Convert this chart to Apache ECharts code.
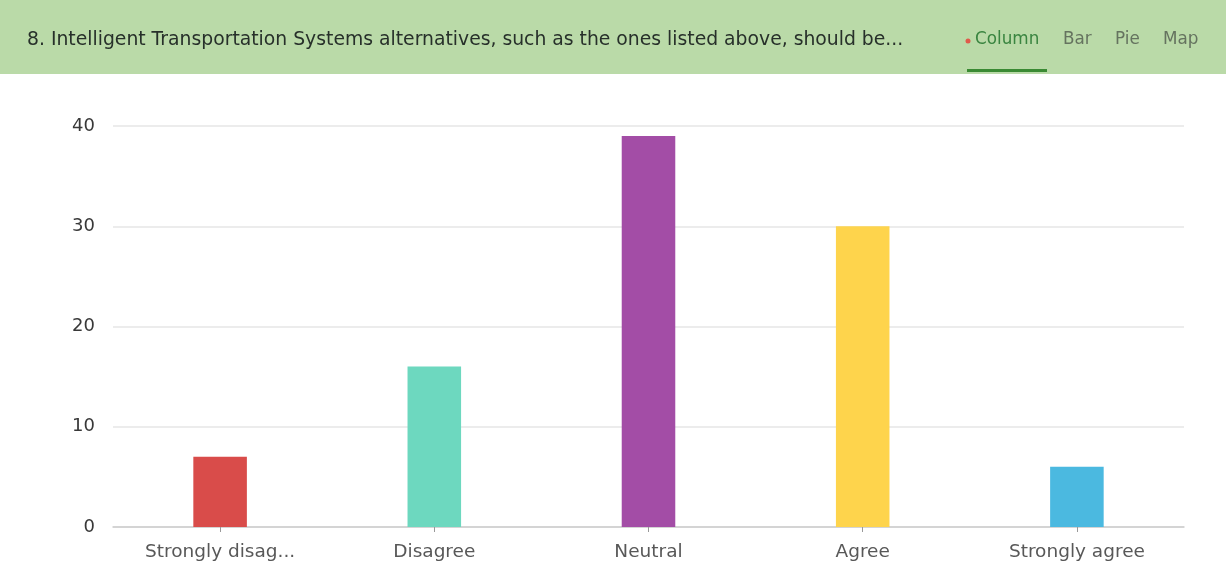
<!DOCTYPE html>
<html>
<head>
<meta charset="utf-8">
<style>
  html, body { margin: 0; padding: 0; background: #ffffff; }
  #chart { width: 1226px; height: 572px; }
</style>
<script src="https://cdn.jsdelivr.net/npm/echarts@6/dist/echarts.min.js"></script>
</head>
<body>
<div id="chart"></div>
<script>
// Survey question 8: response counts per answer option
const questionTitle = '8. Intelligent Transportation Systems alternatives, such as the ones listed above, should be...';
const categories = ['Strongly disag...', 'Disagree', 'Neutral', 'Agree', 'Strongly agree'];
const counts = [7, 16, 39, 30, 6];
const barColors = ['#d94c4a', '#6dd8bf', '#a34da6', '#fed44c', '#4bb9e0'];
const viewTabs = ['Column', 'Bar', 'Pie', 'Map'];
const yTicks = [0, 10, 20, 30, 40];

const chart = echarts.init(document.getElementById('chart'), null, { renderer: 'canvas' });

const fontFamily = '"DejaVu Sans", "Noto Sans", sans-serif';

// header band with question text and view tabs
const tabX = [975, 1063, 1115, 1163];
const headerGraphics = [
  { type: 'rect', left: 0, top: 0, shape: { width: 1226, height: 74 }, style: { fill: '#badaa8' }, silent: true },
  { type: 'text', x: 27, y: 40, style: { text: questionTitle, font: '18.8px ' + fontFamily, fill: '#27302a', verticalAlign: 'middle' } },
  { type: 'circle', shape: { cx: 968, cy: 41, r: 2.5 }, style: { fill: '#e05a4a' } },
  { type: 'rect', shape: { x: 967, y: 69, width: 80, height: 3 }, style: { fill: '#3a8a33' } }
];
viewTabs.forEach((t, i) => {
  headerGraphics.push({
    type: 'text', x: tabX[i], y: 40,
    style: { text: t, font: '16.8px ' + fontFamily, fill: i === 0 ? '#3a8540' : '#65735f', verticalAlign: 'middle' }
  });
});

chart.setOption({
  animation: false,
  graphic: headerGraphics,
  grid: { left: 113, right: 42, top: 126, bottom: 45, containLabel: false },
  xAxis: {
    type: 'category',
    data: categories,
    axisLine: { lineStyle: { color: '#cccccc', width: 1.5 } },
    axisTick: { show: true, alignWithLabel: true, length: 5, lineStyle: { color: '#999999' } },
    axisLabel: { color: '#585858', fontSize: 18.5, fontFamily: fontFamily, margin: 16 }
  },
  yAxis: {
    type: 'value',
    min: yTicks[0],
    max: yTicks[yTicks.length - 1],
    interval: 10,
    axisLine: { show: false },
    axisTick: { show: false },
    axisLabel: { color: '#383838', fontSize: 18, fontFamily: fontFamily, margin: 18, padding: [3, 0, 0, 0] },
    splitLine: { lineStyle: { color: '#e6e6e6', width: 1.5 } }
  },
  series: [{
    type: 'bar',
    data: counts.map((v, i) => ({ value: v, itemStyle: { color: barColors[i] } })),
    barWidth: '25%'
  }]
});
</script>
</body>
</html>
